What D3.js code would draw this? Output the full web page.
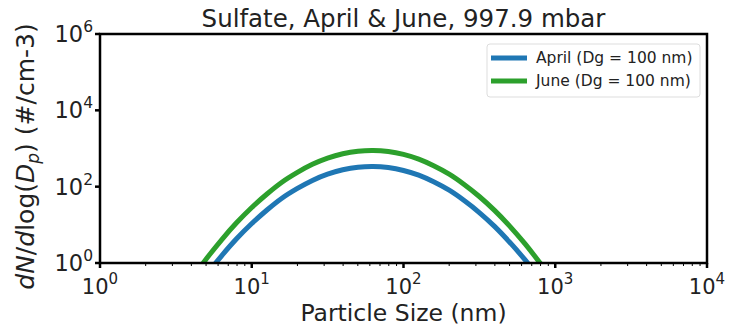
<!DOCTYPE html>
<html><head><meta charset="utf-8">
<script src="https://cdn.jsdelivr.net/npm/d3@7"></script>
<style>body{margin:0;background:#fff}svg{display:block}text{font-family:"DejaVu Sans",sans-serif}</style>
</head><body>
<script>
// Data
const sizes = [3.98, 5.01, 6.31, 7.94, 10, 12.6, 15.8, 20.0, 25.1, 31.6, 39.8, 50.1, 63.1, 79.4, 100, 126, 158, 200, 251, 316, 398, 501, 631, 794, 1000];
const april = [0.137, 0.483, 1.52, 4.3, 10.8, 24.5, 49.8, 90, 146, 213, 277, 324, 339, 317, 266, 200, 134, 80.6, 43.3, 21.0, 9.1, 3.5, 1.22, 0.378, 0.106];
const june = [0.36, 1.27, 4.0, 11.3, 28.5, 64.4, 131, 237, 385, 560, 730, 852, 891, 834, 699, 525, 352, 212, 114, 55.2, 23.9, 9.25, 3.21, 0.995, 0.28];
const seriesNames = ["April (Dg = 100 nm)", "June (Dg = 100 nm)"];
const seriesColors = ["#1f77b4", "#2ca02c"];
const xTickExps = [0, 1, 2, 3, 4];
const yTickExps = [0, 2, 4, 6];
const title = "Sulfate, April & June, 997.9 mbar";
const xLabel = "Particle Size (nm)";

const W = 729, H = 327;
const m = {l: 100, r: 22, t: 34, b: 64};
const svg = d3.select("body").append("svg").attr("width", W).attr("height", H);
const x = d3.scaleLog().domain([1, 1e4]).range([m.l, W - m.r]);
const y = d3.scaleLog().domain([1, 1e6]).range([H - m.b, m.t]);

svg.append("defs").append("clipPath").attr("id", "clip")
  .append("rect").attr("x", m.l).attr("y", m.t).attr("width", W - m.r - m.l).attr("height", H - m.b - m.t);

const line = d3.line().x(d => x(d[0])).y(d => y(d[1])).curve(d3.curveCatmullRom);
const data = [april, june];
data.forEach((vals, i) => {
  svg.append("path").attr("clip-path", "url(#clip)")
    .datum(sizes.map((s, j) => [s, vals[j]]))
    .attr("d", line).attr("fill", "none")
    .attr("stroke", seriesColors[i]).attr("stroke-width", 5);
});

// minor x ticks
const minor = [];
for (let e = 0; e < 4; e++) for (let k = 2; k <= 9; k++) minor.push(k * Math.pow(10, e));
const axB = H - m.b;
svg.append("g").selectAll("line").data(minor).join("line")
  .attr("x1", d => x(d)).attr("x2", d => x(d)).attr("y1", axB).attr("y2", axB + 3)
  .attr("stroke", "#000").attr("stroke-width", 1);
svg.append("g").selectAll("line").data(xTickExps).join("line")
  .attr("x1", d => x(Math.pow(10, d))).attr("x2", d => x(Math.pow(10, d))).attr("y1", axB).attr("y2", axB + 5)
  .attr("stroke", "#000").attr("stroke-width", 2.5);
svg.append("g").selectAll("line").data(yTickExps).join("line")
  .attr("y1", d => y(Math.pow(10, d))).attr("y2", d => y(Math.pow(10, d))).attr("x1", m.l - 5).attr("x2", m.l)
  .attr("stroke", "#000").attr("stroke-width", 2.5);

// frame
svg.append("rect").attr("x", m.l).attr("y", m.t).attr("width", W - m.r - m.l).attr("height", H - m.b - m.t)
  .attr("fill", "none").attr("stroke", "#000").attr("stroke-width", 2.5);

// tick labels
const xt = svg.append("g").selectAll("text").data(xTickExps).join("text")
  .attr("x", d => x(Math.pow(10, d))).attr("y", axB + 31).attr("text-anchor", "middle")
  .attr("font-size", 21).attr("fill", "#222");
xt.append("tspan").text("10");
xt.append("tspan").attr("dy", -10).attr("font-size", 15).text(d => d);

const yt = svg.append("g").selectAll("text").data(yTickExps).join("text")
  .attr("x", m.l - 7).attr("y", d => y(Math.pow(10, d)) + 8).attr("text-anchor", "end")
  .attr("font-size", 22.5).attr("fill", "#222");
yt.append("tspan").text("10");
yt.append("tspan").attr("dy", -10).attr("font-size", 15.5).text(d => d);

// title
svg.append("text").attr("x", (m.l + W - m.r) / 2).attr("y", 27).attr("text-anchor", "middle")
  .attr("font-size", 24.5).attr("fill", "#222").text(title);
// x label
svg.append("text").attr("x", (m.l + W - m.r) / 2).attr("y", 321).attr("text-anchor", "middle")
  .attr("font-size", 23.5).attr("fill", "#222").text(xLabel);
// y label
const yl = svg.append("text").attr("transform", `translate(34,${(m.t + H - m.b) / 2 + 8}) rotate(-90)`)
  .attr("text-anchor", "middle").attr("font-size", 25).attr("fill", "#222");
yl.append("tspan").attr("font-style", "italic").text("dN");
yl.append("tspan").text("/");
yl.append("tspan").attr("font-style", "italic").text("d");
yl.append("tspan").text("log(");
yl.append("tspan").attr("font-style", "italic").text("D");
yl.append("tspan").attr("font-style", "italic").attr("font-size", 17).attr("dy", 5).text("p");
yl.append("tspan").attr("dy", -5).text(") (#/cm-3)");

// legend
const lg = svg.append("g");
lg.append("rect").attr("x", 487).attr("y", 44).attr("width", 213).attr("height", 53).attr("rx", 3)
  .attr("fill", "#fff").attr("stroke", "#ddd").attr("stroke-width", 1);
seriesNames.forEach((n, i) => {
  const yy = 58 + i * 23;
  lg.append("line").attr("x1", 491).attr("x2", 527).attr("y1", yy).attr("y2", yy)
    .attr("stroke", seriesColors[i]).attr("stroke-width", 5);
  lg.append("text").attr("x", 536).attr("y", yy + 5).attr("font-size", 15.5).attr("fill", "#222").text(n);
});
</script>
</body></html>
